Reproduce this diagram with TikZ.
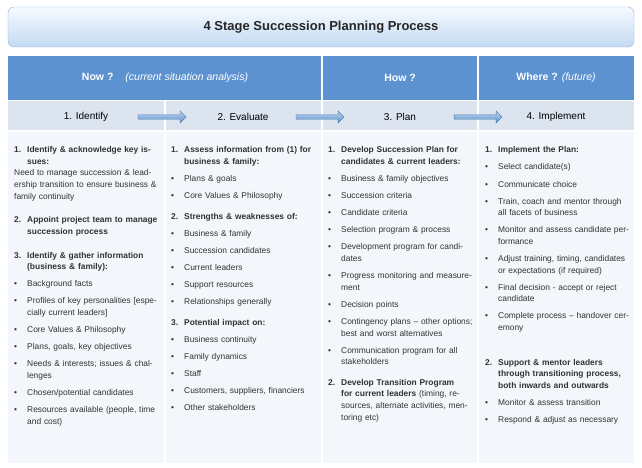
\documentclass[tikz,border=0pt]{standalone}
\usepackage{fontspec}
\setmainfont{Liberation Sans}
\usetikzlibrary{shapes.arrows,positioning}
\definecolor{headblue}{RGB}{91,146,207}
\definecolor{stagegrey}{RGB}{220,228,240}
\definecolor{bodygrey}{RGB}{243,246,250}
\definecolor{textgrey}{RGB}{50,50,50}
\definecolor{titletop}{RGB}{246,250,255}
\definecolor{titlebot}{RGB}{196,218,243}
\newcommand{\nitem}[2]{\par\vspace{9pt}\hangindent=13pt\hangafter=1\noindent\makebox[13pt][l]{\textbf{#1}}#2\par}
\newcommand{\bul}[1]{\par\vspace{5.5pt}\hangindent=13pt\hangafter=1\noindent\makebox[13pt][l]{\textbullet}#1\par}

\begin{document}
\begin{tikzpicture}[
    x=1pt, y=-1pt,
    coltext/.style={anchor=north west, text width=146pt, align=left, inner sep=0pt,
        font=\fontsize{8.4}{11.6}\selectfont, text=textgrey},
    stagelabel/.style={font=\fontsize{10}{12}\selectfont, text=black},
    headlabel/.style={font=\fontsize{10.5}{12}\selectfont\bfseries, text=white},
    fatarrow/.style={single arrow, draw=headblue!80!black, line width=0.3pt,
        top color=headblue!40, bottom color=headblue, minimum height=48pt,
        minimum width=12pt, single arrow head extend=2pt, inner sep=1pt}
]
\useasboundingbox (0,0) rectangle (642,468);

% title
\shade[top color=titletop, bottom color=titlebot, draw=headblue!70, rounded corners=6pt]
    (8,7) rectangle (634,47);
\node[font=\fontsize{13}{15}\selectfont\bfseries, text=black!85] (title) at (321,27) {4 Stage Succession Planning Process};

% bands
\fill[headblue] (8,56) rectangle (634,100);
\fill[stagegrey] (8,101) rectangle (634,130);
\fill[bodygrey] (8,132) rectangle (634,463);
\draw[white, line width=1.2pt] (8,100.5) -- (634,100.5) (8,131) -- (634,131);
\draw[white, line width=1.2pt] (322,56) -- (322,463) (478,56) -- (478,463) (165,100) -- (165,463);

% headers
\node[headlabel] (now) at (165,78) {Now ?\hspace{12pt}\mdseries\itshape (current situation analysis)};
\node[headlabel] (how) at (400,78) {How ?};
\node[headlabel] (where) at (556,78) {Where ?\hspace{4pt}\mdseries\itshape (future)};

% stages
\node[stagelabel] (identify) at (86,117) {1. Identify};
\node[stagelabel] (evaluate) at (243,117) {2. Evaluate};
\node[stagelabel] (plan) at (400,117) {3. Plan};
\node[stagelabel] (implement) at (556,117) {4. Implement};
\node[fatarrow] (arr1) at (161,117) {};
\node[fatarrow] (arr2) at (319,117) {};
\node[fatarrow] (arr3) at (477,117) {};

% column texts
\node[coltext] (colidentify) at (14,132) {%
\nitem{1.}{\textbf{Identify \& acknowledge key issues:}\\Need to manage succession \& leadership transition to ensure business \& family continuity}
\vspace{3pt}
\nitem{2.}{\textbf{Appoint project team to manage succession process}}
\vspace{3pt}
\nitem{3.}{\textbf{Identify \& gather information (business \& family):}}
\bul{Background facts}
\bul{Profiles of key personalities [especially current leaders]}
\bul{Core Values \& Philosophy}
\bul{Plans, goals, key objectives}
\bul{Needs \& interests; issues \& challenges}
\bul{Chosen/potential candidates}
\bul{Resources available (people, time and cost)}};

\node[coltext] (colevaluate) at (171,132) {%
\nitem{1.}{\textbf{Assess information from (1) for business \& family:}}
\bul{Plans \& goals}
\bul{Core Values \& Philosophy}
\nitem{2.}{\textbf{Strengths \& weaknesses of:}}
\bul{Business \& family}
\bul{Succession candidates}
\bul{Current leaders}
\bul{Support resources}
\bul{Relationships generally}
\nitem{3.}{\textbf{Potential impact on:}}
\bul{Business continuity}
\bul{Family dynamics}
\bul{Staff}
\bul{Customers, suppliers, financiers}
\bul{Other stakeholders}};

\node[coltext] (colplan) at (328,132) {%
\nitem{1.}{\textbf{Develop Succession Plan for candidates \& current leaders:}}
\bul{Business \& family objectives}
\bul{Succession criteria}
\bul{Candidate criteria}
\bul{Selection program \& process}
\bul{Development program for candidates}
\bul{Progress monitoring and measurement}
\bul{Decision points}
\bul{Contingency plans -- other options; best and worst alternatives}
\bul{Communication program for all stakeholders}
\nitem{2.}{\textbf{Develop Transition Program for current leaders} (timing, resources, alternate activities, mentoring etc)}};

\node[coltext] (colimplement) at (485,132) {%
\nitem{1.}{\textbf{Implement the Plan:}}
\bul{Select candidate(s)}
\bul{Communicate choice}
\bul{Train, coach and mentor through all facets of business}
\bul{Monitor and assess candidate performance}
\bul{Adjust training, timing, candidates or expectations (if required)}
\bul{Final decision - accept or reject candidate}
\bul{Complete process -- handover ceremony}
\vspace{14pt}
\nitem{2.}{\textbf{Support \& mentor leaders through transitioning process, both inwards and outwards}}
\bul{Monitor \& assess transition}
\bul{Respond \& adjust as necessary}};
\end{tikzpicture}
\end{document}
